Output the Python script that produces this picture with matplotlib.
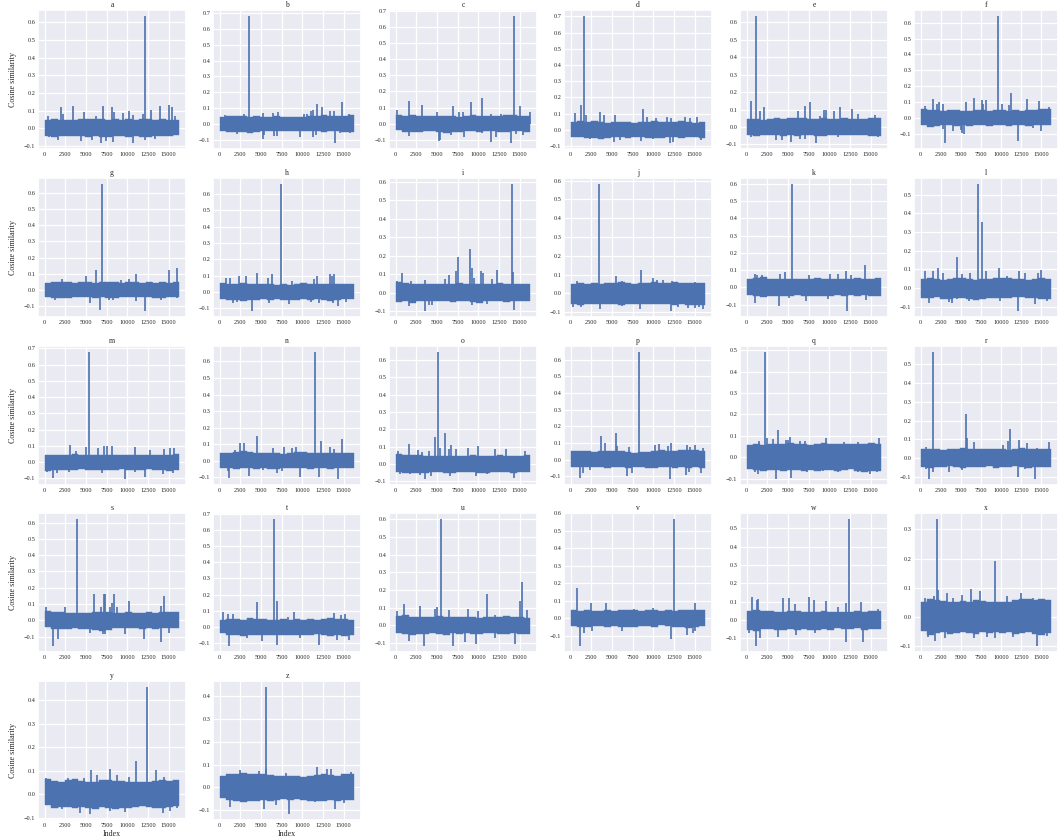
"""Cosine similarity per letter, 26 small panels"""
import matplotlib
matplotlib.use('Agg')
import matplotlib.pyplot as plt
from matplotlib.ticker import MultipleLocator
import numpy as np
import seaborn as sns

letters = list('abcdefghijklmnopqrstuvwxyz')
last_index = 16300

# (index, value) of the spikes above and below the dense band
up_a = [(350,.068),(2000,.12),(2250,.08),(3450,.125),(4700,.09),(6200,.068),(7100,.125),(8100,.12),(8400,.09),(9500,.085),(10150,.10),(10700,.075),(11900,.08),(12100,.635),(12850,.105),(14000,.125),(15050,.13),(15400,.12),(15800,.07)]
dn_a = [(500,-.05),(1600,-.065),(4400,-.075),(5700,-.065),(6800,-.082),(7400,-.07),(8300,-.078),(10650,-.082),(12100,-.065),(13400,-.06)]
up_b = [(600,.055),(3000,.06),(3550,.68),(5200,.068),(6500,.07),(7000,.075),(10200,.062),(10600,.063),(11100,.08),(11300,.088),(11800,.125),(12400,.108),(13300,.082),(13900,.08),(14800,.137),(15700,.06)]
dn_b = [(2100,-.065),(5250,-.095),(5400,-.07),(6600,-.075),(6950,-.075),(9700,-.08),(11300,-.08),(11700,-.07),(14000,-.118),(14600,-.06),(15800,-.06)]
up_c = [(150,.083),(1550,.143),(3200,.115),(5000,.07),(6900,.11),(7700,.07),(8100,.072),(9100,.135),(10500,.158),(11500,.06),(12800,.06),(14300,.665),(15000,.112),(16300,.073)]
dn_c = [(1600,-.075),(5200,-.105),(5400,-.1),(6700,-.07),(8300,-.08),(10400,-.06),(11500,-.112),(12100,-.08),(14000,-.118),(14600,-.065),(15400,-.07)]
up_d = [(550,.105),(1250,.155),(1600,.70),(1900,.09),(3600,.11),(4000,.09),(5400,.09),(8700,.128),(9300,.08),(10300,.07),(11700,.08),(12200,.07),(13900,.08),(14400,.07),(15300,.08)]
dn_d = [(2300,-.06),(5300,-.075),(6000,-.065),(8500,-.07),(10000,-.055),(12000,-.08),(12400,-.075),(15800,-.065)]
up_e = [(500,.148),(1100,.635),(1650,.09),(2150,.113),(6200,.09),(7000,.118),(7700,.142),(8900,.062),(9400,.095),(9600,.095),(10600,.09),(11300,.113),(12800,.102),(13500,.075),(15500,.068)]
dn_e = [(500,-.06),(3600,-.075),(4300,-.072),(5400,-.085),(6500,-.068),(7100,-.07),(8400,-.09),(11000,-.06),(15900,-.06)]
up_f = [(500,.078),(1600,.12),(2100,.09),(2300,.10),(2800,.09),(5700,.10),(6600,.125),(7600,.115),(7800,.09),(8100,.115),(9650,.64),(10200,.09),(11000,.08),(11300,.16),(13200,.12),(14700,.108),(16000,.07)]
dn_f = [(2800,-.07),(3000,-.155),(4000,-.08),(5000,-.075),(5200,-.095),(5400,-.10),(12100,-.142),(14000,-.06),(15000,-.08)]
up_g = [(2100,.065),(5050,.085),(6250,.12),(6900,.655),(9200,.06),(10200,.065),(11100,.10),(13000,.05),(15100,.125),(16050,.138)]
dn_g = [(1300,-.065),(5500,-.08),(6700,-.123),(7800,-.065),(8300,-.065),(11100,-.07),(12100,-.13),(14100,-.065),(16000,-.05)]
up_h = [(750,.085),(1200,.085),(2300,.095),(3200,.097),(4500,.115),(5800,.083),(6300,.108),(7450,.66),(8700,.065),(11400,.08),(11800,.095),(13350,.11),(13600,.095),(13900,.108)]
dn_h = [(1600,-.07),(2100,-.06),(3900,-.115),(6000,-.07),(8400,-.075),(11100,-.06),(12000,-.065),(13700,-.065),(14300,-.088),(15300,-.06)]
up_i = [(150,.065),(800,.103),(1850,.065),(3500,.068),(6000,.075),(6400,.097),(7300,.118),(7600,.19),(9050,.238),(9250,.13),(9500,.08),(10300,.118),(10600,.108),(11700,.075),(12250,.123),(14050,.585),(14200,.113)]
dn_i = [(1600,-.07),(3600,-.098),(4000,-.068),(4400,-.065),(9200,-.065),(11100,-.06),(14300,-.095)]
up_j = [(750,.066),(3400,.58),(5500,.095),(6200,.068),(8500,.122),(9950,.083),(10400,.07),(11200,.07),(12300,.068),(15000,.06)]
dn_j = [(300,-.07),(1200,-.07),(3600,-.082),(6200,-.065),(8450,-.085),(12100,-.092),(13000,-.07),(14200,-.08),(15000,-.08),(15500,-.075),(16000,-.085)]
up_k = [(950,.075),(1300,.07),(1900,.073),(4050,.08),(4650,.088),(5500,.597),(7500,.073),(10100,.075),(11000,.075),(12050,.095),(12600,.07),(14300,.128)]
dn_k = [(1050,-.09),(3900,-.11),(5100,-.06),(7200,-.08),(9800,-.07),(12100,-.135),(14400,-.075)]
up_l = [(500,.09),(1600,.09),(2200,.107),(2850,.08),(4550,.165),(5100,.078),(6100,.08),(7100,.555),(7650,.355),(8100,.09),(9800,.11),(10800,.065),(12200,.09),(13000,.08),(14600,.08),(15050,.098)]
dn_l = [(1100,-.08),(3600,-.075),(3900,-.08),(4500,-.06),(6000,-.07),(9900,-.07),(12100,-.12),(14200,-.082),(15800,-.068)]
up_m = [(3100,.105),(3800,.07),(5000,.092),(5400,.675),(6500,.085),(7200,.097),(7500,.098),(8200,.098),(10950,.095),(12800,.072),(14500,.08),(15200,.085),(15700,.087)]
dn_m = [(300,-.06),(1050,-.095),(1500,-.065),(3000,-.06),(6950,-.07),(9700,-.102),(10900,-.06),(12100,-.09),(14300,-.075),(15500,-.065)]
up_n = [(1800,.065),(2500,.105),(2950,.11),(4550,.15),(6500,.08),(7800,.085),(8700,.08),(9200,.085),(11550,.655),(12300,.12),(13300,.085),(13900,.07),(14850,.13)]
dn_n = [(1000,-.06),(1150,-.105),(3600,-.09),(5200,-.055),(6900,-.075),(7600,-.06),(9700,-.095),(12000,-.095),(14300,-.108)]
up_o = [(300,.073),(1550,.118),(2700,.082),(3200,.07),(4050,.075),(4750,.155),(5150,.645),(5400,.092),(5950,.18),(6400,.085),(6750,.11),(7300,.087),(8800,.095),(9950,.103),(12000,.087),(13300,.085),(15700,.075)]
dn_o = [(500,-.06),(1700,-.06),(2900,-.065),(3600,-.085),(4250,-.07),(6600,-.07),(9700,-.07),(11100,-.06),(14300,-.083)]
up_p = [(3650,.14),(4200,.10),(5450,.16),(5600,.08),(7100,.075),(8300,.645),(10150,.085),(10700,.095),(11800,.08),(12200,.10),(14050,.09),(14500,.075),(15000,.09),(16000,.07)]
dn_p = [(1100,-.108),(1500,-.08),(2300,-.06),(6800,-.10),(7400,-.08),(12000,-.115),(14000,-.09),(14300,-.075),(15800,-.08)]
up_q = [(1500,.075),(2200,.49),(2400,.092),(3150,.085),(3750,.127),(4700,.08),(5000,.08),(5300,.095),(6500,.078),(7100,.075),(9650,.09),(11800,.07),(13500,.07),(16000,.088)]
dn_q = [(1000,-.07),(1400,-.08),(3500,-.1),(5350,-.095),(7300,-.07),(9300,-.065),(11000,-.07),(13500,-.07),(14900,-.08),(15800,-.07)]
up_r = [(700,.06),(1550,.565),(5650,.235),(5750,.105),(6600,.085),(10250,.07),(10950,.09),(11100,.155),(12200,.097),(13200,.08),(14500,.055),(16050,.085)]
dn_r = [(700,-.06),(1100,-.11),(1600,-.075),(3500,-.072),(5100,-.065),(12100,-.1),(13000,-.06),(14300,-.11)]
up_s = [(150,.08),(2400,.085),(3900,.62),(5950,.16),(6800,.08),(7200,.162),(7300,.16),(7950,.08),(8200,.105),(8400,.16),(8800,.085),(10150,.122),(14100,.09),(14500,.148)]
dn_s = [(1050,-.155),(1600,-.115),(5500,-.08),(7000,-.085),(7350,-.085),(9700,-.085),(12000,-.115),(14050,-.135),(15100,-.075)]
up_t = [(450,.09),(1000,.08),(1600,.08),(4550,.155),(6550,.665),(6900,.16),(8300,.065),(9050,.092),(13800,.085),(14700,.075),(15200,.08)]
dn_t = [(1100,-.115),(3300,-.065),(5100,-.085),(6900,-.11),(9700,-.07),(12000,-.112),(14200,-.08),(15700,-.08)]
up_u = [(150,.08),(1000,.12),(2950,.11),(4700,.093),(5050,.105),(5450,.60),(6400,.085),(8700,.09),(10000,.08),(11000,.175),(12000,.06),(15000,.137),(15350,.245),(15900,.085)]
dn_u = [(1600,-.09),(3450,-.115),(6900,-.115),(8400,-.095),(9700,-.105),(12000,-.07),(14400,-.105)]
up_v = [(750,.172),(2500,.09),(4300,.09),(7700,.055),(10000,.06),(12550,.565),(15000,.088)]
dn_v = [(1100,-.155),(1600,-.085),(2600,-.07),(6200,-.07),(12150,-.118),(14100,-.092),(14800,-.08),(15000,-.07)]
up_w = [(650,.128),(1200,.11),(1400,.115),(4450,.118),(5100,.118),(5800,.085),(7500,.125),(8100,.11),(9600,.102),(11000,.07),(12000,.095),(12450,.55),(13800,.098),(15900,.062)]
dn_w = [(300,-.07),(1100,-.14),(1650,-.10),(3800,-.09),(6000,-.08),(8300,-.07),(12000,-.118),(14100,-.122)]
up_x = [(600,.065),(1700,.07),(2050,.335),(2150,.09),(3250,.08),(4100,.065),(5200,.075),(6300,.095),(7450,.087),(9250,.19),(10800,.07),(12500,.083),(14000,.065)]
dn_x = [(900,-.07),(1800,-.085),(3100,-.075),(6600,-.075),(8300,-.07),(9300,-.072),(11500,-.07),(14500,-.10),(15800,-.068)]
up_y = [(150,.07),(2800,.07),(4700,.07),(5550,.105),(6300,.08),(7950,.107),(8700,.08),(10200,.075),(11000,.14),(12350,.455),(13500,.103),(14400,.075)]
dn_y = [(2100,-.065),(4300,-.082),(5500,-.083),(7900,-.07),(9700,-.075),(14300,-.078),(15200,-.07),(16000,-.06)]
up_z = [(2400,.078),(4700,.073),(5600,.08),(5650,.44),(8000,.062),(11800,.09),(13000,.08),(13500,.08),(15900,.07)]
dn_z = [(1200,-.085),(3500,-.06),(5350,-.095),(6800,-.075),(8400,-.115),(11500,-.065),(14000,-.095),(15000,-.07)]

# jagged edge of the dense band, thousandths, 20 stretches left to right
top_a = [44,50,46,44,48,52,50,54,50,48,50,46,50,48,54,50,46,50,48,44]
bot_a = [44,48,46,44,42,46,50,46,52,50,46,44,50,46,52,48,46,44,42,40]
top_b = [42,50,52,48,46,48,44,46,50,46,44,46,44,48,50,54,52,50,48,54]
bot_b = [44,50,48,50,54,48,46,44,44,46,44,46,42,44,46,48,46,44,48,50]
top_c = [55,48,52,46,50,48,46,50,48,44,48,52,50,48,46,50,52,54,50,48]
bot_c = [42,50,54,52,48,46,50,56,52,50,46,48,50,44,48,54,50,46,48,52]
top_d = [46,52,50,54,48,44,46,50,46,44,50,48,52,46,48,50,52,46,44,50]
bot_d = [44,48,50,52,56,50,48,46,50,48,46,50,52,50,46,48,50,46,44,50]
top_e = [46,44,42,48,50,46,52,54,50,46,48,50,46,48,50,46,44,46,52,50]
bot_e = [46,54,44,46,48,50,46,50,44,48,50,52,46,48,44,46,44,46,50,52]
top_f = [55,52,50,46,48,50,46,44,50,48,46,52,50,46,48,44,48,50,54,56]
bot_f = [46,54,52,46,44,50,46,48,44,46,50,46,44,48,44,46,50,46,44,46]
top_g = [44,46,48,46,44,48,46,44,46,48,46,44,48,46,44,46,44,46,44,46]
bot_g = [48,50,54,50,46,48,44,50,46,54,50,46,44,48,46,44,50,52,46,44]
top_h = [52,50,48,54,50,48,46,50,44,48,44,50,52,46,48,50,46,48,46,50]
bot_h = [46,52,50,54,50,48,46,52,44,52,50,52,46,48,44,52,54,50,46,44]
top_i = [55,50,46,48,44,46,44,46,48,50,46,48,44,46,44,50,46,44,46,48]
bot_i = [50,48,56,48,46,48,44,46,50,48,46,50,54,48,46,44,52,48,46,48]
top_j = [52,56,50,54,50,54,56,58,56,52,54,56,58,54,56,58,54,56,54,56]
bot_j = [58,60,58,54,56,54,58,60,54,58,56,54,58,56,58,60,54,60,62,60]
top_k = [50,54,58,50,46,48,50,48,46,50,54,50,48,50,48,46,52,50,48,54]
bot_k = [46,52,56,50,52,48,50,46,48,52,48,52,50,46,48,46,52,46,50,52]
top_l = [48,52,50,46,50,54,52,50,46,48,50,52,54,56,50,48,46,50,52,48]
bot_l = [50,54,48,56,58,52,54,60,62,56,50,52,54,50,46,48,54,50,56,58]
top_m = [42,44,42,46,48,46,44,42,46,44,42,44,46,44,42,44,46,44,46,48]
bot_m = [52,48,46,50,46,44,46,48,50,46,48,44,46,50,46,44,50,48,52,48]
top_n = [50,48,54,58,52,48,46,50,46,44,50,54,52,50,46,48,50,46,50,48]
bot_n = [42,46,48,44,46,50,46,48,50,44,42,46,44,48,46,44,48,42,44,46]
top_o = [58,54,52,50,48,46,48,46,44,48,46,50,48,46,44,50,46,44,48,50]
bot_o = [46,52,50,54,50,46,48,52,50,46,44,48,50,52,48,44,46,50,44,46]
top_p = [52,54,50,48,52,50,54,50,46,42,44,48,54,56,54,52,56,60,58,54]
bot_p = [42,46,44,42,46,48,46,44,48,42,46,48,50,46,42,48,44,50,46,48]
top_q = [58,60,56,62,64,62,66,64,62,58,60,66,62,60,64,60,64,62,68,64]
bot_q = [54,60,66,58,60,62,58,60,64,58,62,60,58,64,60,54,66,68,64,62]
top_r = [46,50,46,44,48,50,54,50,48,46,50,48,46,44,50,52,50,46,48,50]
bot_r = [50,54,48,46,44,50,54,48,46,50,44,52,46,50,44,46,52,46,50,48]
top_s = [56,54,50,46,48,46,44,50,54,52,48,46,50,46,48,52,48,54,52,50]
bot_s = [42,52,50,54,48,52,54,58,62,56,48,46,44,48,52,46,50,46,44,48]
top_t = [42,48,50,46,54,48,50,46,44,50,46,50,44,48,46,52,54,50,52,46]
bot_t = [36,52,48,54,50,52,46,50,48,52,48,46,52,46,44,50,56,48,54,46]
top_u = [52,56,50,46,48,46,52,48,46,50,46,48,44,46,50,48,52,50,46,44]
bot_u = [46,50,52,48,50,46,48,52,46,50,46,48,50,44,46,48,50,46,50,48]
top_v = [46,44,46,44,42,46,44,46,50,46,44,46,48,44,46,44,46,50,48,50]
bot_v = [42,46,50,44,42,46,44,48,46,50,44,42,46,40,44,50,46,52,48,44]
top_w = [50,54,52,48,46,44,48,50,46,44,46,48,46,44,42,46,48,46,50,48]
bot_w = [56,60,50,48,52,54,48,52,50,54,52,50,54,46,48,50,46,52,48,50]
top_x = [50,62,58,54,52,50,54,52,56,54,50,52,50,52,58,60,62,58,60,56]
bot_x = [50,62,58,54,60,56,54,58,60,54,56,52,58,54,60,56,52,60,62,58]
top_y = [65,58,54,60,64,56,50,52,60,62,58,56,50,52,50,54,58,60,56,60]
bot_y = [46,58,56,54,60,56,58,62,56,60,64,58,60,54,50,56,60,58,54,52]
top_z = [50,60,58,62,60,58,60,54,50,52,50,52,48,50,54,60,56,52,58,60]
bot_z = [46,56,58,62,58,60,54,58,56,50,54,52,56,60,58,60,54,60,56,54]

ups = [up_a, up_b, up_c, up_d, up_e, up_f, up_g, up_h, up_i, up_j, up_k, up_l, up_m,
       up_n, up_o, up_p, up_q, up_r, up_s, up_t, up_u, up_v, up_w, up_x, up_y, up_z]
downs = [dn_a, dn_b, dn_c, dn_d, dn_e, dn_f, dn_g, dn_h, dn_i, dn_j, dn_k, dn_l, dn_m,
         dn_n, dn_o, dn_p, dn_q, dn_r, dn_s, dn_t, dn_u, dn_v, dn_w, dn_x, dn_y, dn_z]
tops = [top_a, top_b, top_c, top_d, top_e, top_f, top_g, top_h, top_i, top_j, top_k, top_l, top_m,
        top_n, top_o, top_p, top_q, top_r, top_s, top_t, top_u, top_v, top_w, top_x, top_y, top_z]
bots = [bot_a, bot_b, bot_c, bot_d, bot_e, bot_f, bot_g, bot_h, bot_i, bot_j, bot_k, bot_l, bot_m,
        bot_n, bot_o, bot_p, bot_q, bot_r, bot_s, bot_t, bot_u, bot_v, bot_w, bot_x, bot_y, bot_z]

W, H = 1058, 840
col_left = [38, 213, 389, 564, 740, 914]
col_width = [148, 148, 148, 148, 148, 144]
row_top = [10, 178, 346, 513, 681]
row_height = 139

sns.set_theme(style='darkgrid')
plt.rcParams['font.family'] = ['Liberation Serif', 'DejaVu Serif']

fig = plt.figure(figsize=(W / 100, H / 100), dpi=100)
blue = sns.color_palette('deep')[0]
stretch_x = np.linspace(0, last_index, 21)

for n, letter in enumerate(letters):
    row, col = divmod(n, 6)
    ax = fig.add_axes([col_left[col] / W, 1 - (row_top[row] + row_height) / H,
                       col_width[col] / W, row_height / H])
    spikes = ups[n] + downs[n]
    top = np.array(tops[n] + tops[n][-1:]) / 1000
    bot = -np.array(bots[n] + bots[n][-1:]) / 1000
    ax.fill_between(stretch_x, bot, top, step='post', color=blue, linewidth=0.3)
    ax.vlines([s[0] for s in spikes], 0, [s[1] for s in spikes], color=blue, linewidth=1.2)
    ax.set_title(letter, fontsize=5.5, pad=2.5)
    ax.yaxis.set_major_locator(MultipleLocator(0.1))
    ax.set_xticks([0, 2500, 5000, 7500, 10000, 12500, 15000])
    ax.tick_params(labelsize=4.5, pad=2, length=0)
    ax.grid(True, color='white', linewidth=0.9)
    if col == 0:
        ax.set_ylabel('Cosine similarity', fontsize=5.8, labelpad=5)
    if row == 4:
        ax.set_xlabel('Index', fontsize=5.8, labelpad=1.5)

fig.savefig('out.png', dpi=100)
plt.close(fig)
